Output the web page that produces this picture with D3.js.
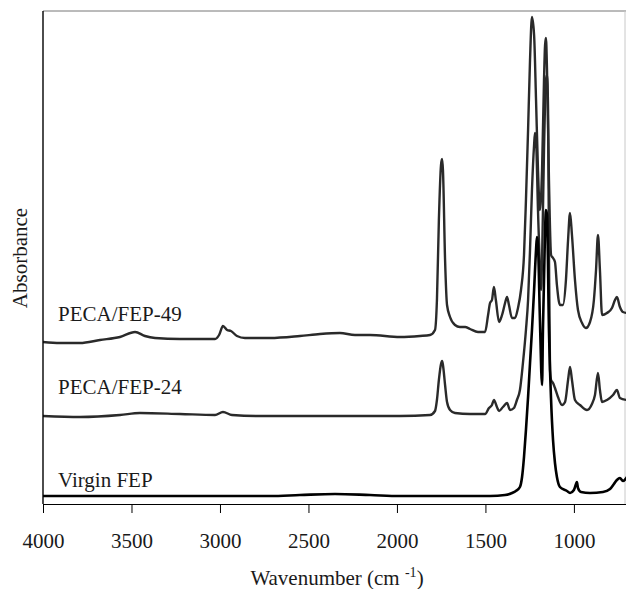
<!DOCTYPE html>
<html>
<head>
<meta charset="utf-8">
<script src="https://cdn.jsdelivr.net/npm/d3@7"></script>
<style>
  body { margin: 0; background: #fff; }
  svg text { font-family: "Liberation Serif", "Times New Roman", serif; fill: #1a1a1a; }
</style>
</head>
<body>
<script>
// tick labels on the wavenumber axis
var xTicks = [4000, 3500, 3000, 2500, 2000, 1500, 1000];

var seriesNames = ["PECA/FEP-49", "PECA/FEP-24", "Virgin FEP"];

// [wavenumber (cm-1), absorbance (a.u., offset stacked)]
var fep49 = [
  [4000,1.62],[3904,1.61],[3791,1.61],[3678,1.64],[3565,1.67],[3480,1.72],[3424,1.68],[3367,1.66],
  [3226,1.65],[3028,1.65],[3005,1.69],[2983,1.78],[2960,1.74],[2938,1.73],[2904,1.68],[2859,1.66],
  [2717,1.66],[2548,1.68],[2435,1.70],[2322,1.71],[2237,1.69],[2152,1.69],[1983,1.67],[1870,1.68],
  [1813,1.69],[1785,1.74],[1774,2.04],[1763,2.84],[1751,3.39],[1745,3.45],[1740,3.34],[1728,2.44],
  [1717,1.99],[1700,1.87],[1672,1.79],[1644,1.77],[1615,1.77],[1587,1.75],[1542,1.72],[1502,1.72],
  [1485,1.89],[1474,2.01],[1463,2.04],[1452,2.17],[1441,2.04],[1423,1.82],[1406,1.89],[1389,2.01],
  [1378,2.07],[1367,1.99],[1350,1.86],[1333,1.86],[1316,1.96],[1299,2.14],[1282,2.49],[1271,3.04],
  [1259,3.74],[1248,4.44],[1237,4.87],[1225,4.69],[1214,4.04],[1203,3.34],[1192,2.94],[1180,3.34],
  [1169,4.24],[1163,4.59],[1158,4.66],[1152,4.34],[1141,3.24],[1129,2.49],[1118,2.46],[1107,2.42],
  [1096,2.19],[1079,1.99],[1062,1.99],[1045,2.24],[1033,2.64],[1022,2.91],[1011,2.69],[994,2.24],
  [977,1.94],[954,1.81],[932,1.76],[909,1.82],[887,2.04],[875,2.34],[864,2.69],[853,2.34],
  [841,1.89],[813,1.91],[785,1.96],[768,2.04],[757,2.07],[740,1.97],[723,1.92],[700,1.91]
];

var fep24 = [
  [4000,0.88],[3791,0.87],[3565,0.89],[3452,0.91],[3226,0.90],[3028,0.89],[2983,0.92],[2932,0.89],
  [2774,0.88],[2548,0.88],[2265,0.88],[1983,0.88],[1813,0.89],[1785,0.93],[1774,1.04],[1763,1.24],
  [1751,1.40],[1745,1.43],[1740,1.39],[1728,1.19],[1717,1.02],[1700,0.94],[1672,0.91],[1587,0.90],
  [1502,0.90],[1480,0.96],[1463,0.99],[1452,1.04],[1435,0.97],[1423,0.93],[1401,0.97],[1378,1.01],
  [1361,0.94],[1339,0.96],[1322,1.04],[1305,1.14],[1288,1.41],[1271,1.74],[1259,2.04],[1248,2.54],
  [1237,3.14],[1225,3.59],[1220,3.71],[1214,3.64],[1203,2.94],[1192,2.34],[1186,2.14],[1180,2.44],
  [1169,3.54],[1158,4.24],[1152,4.29],[1146,3.94],[1141,2.54],[1135,1.34],[1129,1.24],[1118,1.21],
  [1107,1.16],[1090,1.07],[1067,0.99],[1050,1.02],[1033,1.24],[1022,1.37],[1011,1.24],[994,1.04],
  [966,0.99],[926,0.94],[898,1.00],[881,1.09],[864,1.31],[853,1.14],[841,1.02],[813,1.04],
  [779,1.09],[757,1.14],[740,1.06],[700,1.04]
];

var virgin = [
  [4000,0.08],[3678,0.08],[3113,0.08],[2717,0.08],[2548,0.09],[2350,0.10],[2152,0.09],[1983,0.08],
  [1700,0.08],[1474,0.08],[1389,0.09],[1350,0.11],[1328,0.13],[1305,0.17],[1293,0.27],[1282,0.47],
  [1271,0.74],[1259,1.07],[1248,1.41],[1237,1.74],[1225,2.14],[1214,2.54],[1209,2.67],[1203,2.59],
  [1192,1.84],[1180,1.19],[1175,1.74],[1163,2.74],[1158,2.94],[1152,2.89],[1141,1.74],[1129,1.04],
  [1118,0.64],[1107,0.41],[1096,0.27],[1079,0.17],[1039,0.13],[1022,0.11],[1000,0.14],[988,0.20],
  [983,0.22],[977,0.16],[960,0.12],[909,0.11],[836,0.12],[796,0.15],[774,0.20],[757,0.24],
  [740,0.26],[723,0.23],[700,0.27]
];

var width = 626, height = 589;
var margin = {left: 43, right: 0, top: 11, bottom: 85};
var plotRight = 627, plotBottom = 504;

var svg = d3.select("body").append("svg")
    .attr("width", width)
    .attr("height", height);

var x = d3.scaleLinear().domain([4000, 700]).range([margin.left, plotRight]);
var y = d3.scaleLinear().domain([0, 4.93]).range([plotBottom, margin.top]);

svg.append("clipPath").attr("id", "plotclip")
  .append("rect")
    .attr("x", margin.left).attr("y", 0)
    .attr("width", plotRight - margin.left).attr("height", plotBottom);

// frame: top and right are faint in the original
svg.append("line")
    .attr("x1", margin.left).attr("x2", plotRight)
    .attr("y1", margin.top).attr("y2", margin.top)
    .attr("stroke", "#777").attr("stroke-width", 1);
svg.append("line")
    .attr("x1", 625).attr("x2", 625)
    .attr("y1", margin.top).attr("y2", plotBottom)
    .attr("stroke", "#c8c8c8").attr("stroke-width", 1);

var line = d3.line()
    .x(function(d) { return x(d[0]); })
    .y(function(d) { return y(d[1]); })
    .curve(d3.curveMonotoneX);

var traces = [
  {name: seriesNames[0], data: fep49, color: "#2a2a2a", w: 2.4},
  {name: seriesNames[1], data: fep24, color: "#2a2a2a", w: 2.4},
  {name: seriesNames[2], data: virgin, color: "#000", w: 2.6}
];

svg.append("g").attr("clip-path", "url(#plotclip)")
  .selectAll("path")
  .data(traces)
  .enter().append("path")
    .attr("d", function(d) { return line(d.data); })
    .attr("fill", "none")
    .attr("stroke", function(d) { return d.color; })
    .attr("stroke-width", function(d) { return d.w; })
    .attr("stroke-linejoin", "round");

// series labels sit just above each baseline
var labelPos = [{x: 58, y: 321}, {x: 58, y: 394}, {x: 58, y: 487}];
svg.selectAll("text.series")
  .data(traces)
  .enter().append("text")
    .attr("class", "series")
    .attr("x", function(d, i) { return labelPos[i].x; })
    .attr("y", function(d, i) { return labelPos[i].y; })
    .style("font-size", "21px")
    .text(function(d) { return d.name; });

// axes
var xAxis = d3.axisBottom(x)
    .tickValues(xTicks)
    .tickFormat(d3.format("d"))
    .tickSize(9)
    .tickSizeOuter(0)
    .tickPadding(20);

var gx = svg.append("g")
    .attr("transform", "translate(0," + plotBottom + ")")
    .call(xAxis);
gx.select(".domain").attr("stroke", "#000").attr("stroke-width", 1.2);
gx.selectAll(".tick line").attr("stroke", "#000");
gx.selectAll(".tick text")
    .style("font-family", "'Liberation Serif', 'Times New Roman', serif")
    .style("font-size", "21px")
    .attr("fill", "#1a1a1a");

svg.append("line")
    .attr("x1", margin.left).attr("x2", margin.left)
    .attr("y1", margin.top).attr("y2", plotBottom)
    .attr("stroke", "#000").attr("stroke-width", 1.4);

// axis titles
var xt = svg.append("text")
    .attr("x", 337).attr("y", 585)
    .attr("text-anchor", "middle")
    .style("font-size", "21px");
xt.append("tspan").text("Wavenumber (cm ");
xt.append("tspan").attr("dy", -8).style("font-size", "14px").text("-1");
xt.append("tspan").attr("dy", 8).text(")");

svg.append("text")
    .attr("transform", "translate(27,258) rotate(-90)")
    .attr("text-anchor", "middle")
    .style("font-size", "21px")
    .text("Absorbance");
</script>
</body>
</html>
